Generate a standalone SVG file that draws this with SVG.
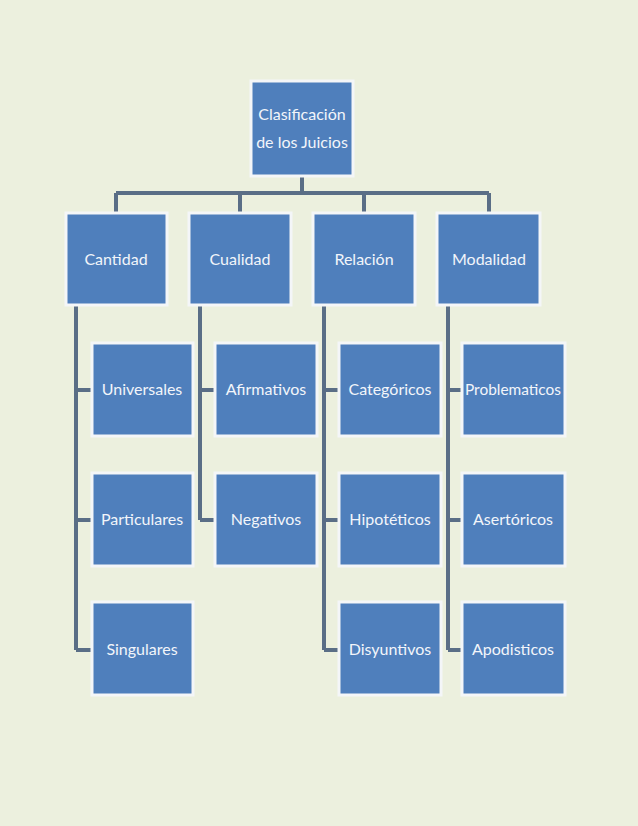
<svg xmlns="http://www.w3.org/2000/svg" width="638" height="826" viewBox="0 0 638 826">
<style>
.b{fill:#4f7fbc;stroke:#f4f6f8;stroke-width:3}
.t{font-family:Lato,"Open Sans",sans-serif;font-size:16px;fill:#f2f5fa;text-anchor:middle}
.c{stroke:#5a6e86;stroke-width:4;fill:none}
</style>
<rect width="638" height="826" fill="#ecf0de"/>
<g id="connectors" class="c">
<path d="M302 177V193M116 193H489M116 193V212M240 193V212M364 193V212M489 193V212"/>
<path d="M76 306V650M76 390H92M76 520H92M76 650H92"/>
<path d="M200 306V520M200 390H215M200 520H215"/>
<path d="M324 306V650M324 390H339M324 520H339M324 650H339"/>
<path d="M448 306V650M448 390H462M448 520H462M448 650H462"/>
</g>
<g id="root"><rect class="b" x="251" y="81" width="102" height="95"/><text class="t" x="302" y="120">Clasificación</text><text class="t" x="302" y="148">de los Juicios</text></g>
<g id="cantidad"><rect class="b" x="66" y="213" width="101" height="92"/><text class="t" x="116" y="265">Cantidad</text></g>
<g id="cualidad"><rect class="b" x="189" y="213" width="102" height="92"/><text class="t" x="240" y="265">Cualidad</text></g>
<g id="relacion"><rect class="b" x="313" y="213" width="102" height="92"/><text class="t" x="364" y="265">Relación</text></g>
<g id="modalidad"><rect class="b" x="437" y="213" width="103" height="92"/><text class="t" x="489" y="265">Modalidad</text></g>
<g id="universales"><rect class="b" x="92" y="343" width="101" height="93"/><text class="t" x="142" y="395">Universales</text></g>
<g id="particulares"><rect class="b" x="92" y="473" width="101" height="93"/><text class="t" x="142" y="525">Particulares</text></g>
<g id="singulares"><rect class="b" x="92" y="602" width="101" height="93"/><text class="t" x="142" y="655">Singulares</text></g>
<g id="afirmativos"><rect class="b" x="215" y="343" width="102" height="93"/><text class="t" x="266" y="395">Afirmativos</text></g>
<g id="negativos"><rect class="b" x="215" y="473" width="102" height="93"/><text class="t" x="266" y="525">Negativos</text></g>
<g id="categoricos"><rect class="b" x="339" y="343" width="102" height="93"/><text class="t" x="390" y="395">Categóricos</text></g>
<g id="hipoteticos"><rect class="b" x="339" y="473" width="102" height="93"/><text class="t" x="390" y="525">Hipotéticos</text></g>
<g id="disyuntivos"><rect class="b" x="339" y="602" width="102" height="93"/><text class="t" x="390" y="655">Disyuntivos</text></g>
<g id="problematicos"><rect class="b" x="462" y="343" width="103" height="93"/><text class="t" x="513" y="395" textLength="96" lengthAdjust="spacingAndGlyphs">Problematicos</text></g>
<g id="asertoricos"><rect class="b" x="462" y="473" width="103" height="93"/><text class="t" x="513" y="525">Asertóricos</text></g>
<g id="apodisticos"><rect class="b" x="462" y="602" width="103" height="93"/><text class="t" x="513" y="655">Apodisticos</text></g>
</svg>
